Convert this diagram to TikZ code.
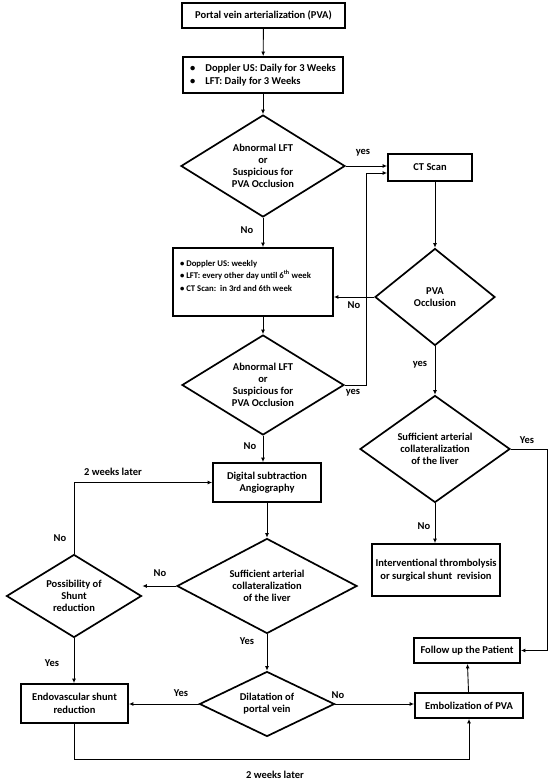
\documentclass[tikz,border=0pt]{standalone}
\usepackage{fontspec}
\setmainfont{Carlito}
\usetikzlibrary{arrows.meta, shapes.geometric}

\begin{document}
\begin{tikzpicture}[x=1pt, y=-1pt,
  box/.style={draw, line width=1.8pt, font=\bfseries\fontsize{10.5}{12.5}\selectfont, align=center, inner sep=2pt},
  dia/.style={diamond, draw, line width=1.7pt, font=\bfseries\fontsize{10.5}{12}\selectfont, align=center, inner sep=0pt, aspect=1.6},
  lab/.style={font=\bfseries\fontsize{10.5}{12}\selectfont},
  arr/.style={-{Latex[length=4.5pt, width=4pt]}, line width=0.9pt}]
\useasboundingbox (0,0) rectangle (550,784);
\node[box, minimum width=163pt, minimum height=25pt] (pva) at (263.5,15.5) {Portal vein arterialization (PVA)};
\node[box, minimum width=160pt, minimum height=36pt, align=left, font=\bfseries\fontsize{10.5}{13}\selectfont] (daily) at (263,75) {\textbullet\hspace{10pt}Doppler US: Daily for 3 Weeks\\ \textbullet\hspace{10pt}LFT: Daily for 3 Weeks};
\node[dia, minimum width=164pt, minimum height=102pt] (dec1) at (263,166) {Abnormal LFT\\ or\\ Suspicious for\\ PVA Occlusion};
\node[box, minimum width=84pt, minimum height=27pt] (ct) at (430,167.5) {CT Scan};
\node[box, minimum width=160pt, minimum height=68pt] (weekly) at (253,282) {\parbox[c][60pt][t]{146pt}{\fontsize{8.7}{12.5}\selectfont\vspace*{8pt}\textbullet\ Doppler US: weekly\\ \textbullet\ LFT: every other day until 6\textsuperscript{th} week\\ \textbullet\ CT Scan:\ \ in 3rd and 6th week}};
\node[dia, minimum width=120pt, minimum height=97pt] (occl) at (435,297) {PVA\\ Occlusion};
\node[dia, minimum width=162pt, minimum height=100pt] (dec2) at (263,385) {Abnormal LFT\\ or\\ Suspicious for\\ PVA Occlusion};
\node[dia, minimum width=150pt, minimum height=107pt] (suff1) at (435,449) {Sufficient arterial\\ collateralization\\ of the liver};
\node[box, minimum width=128pt, minimum height=52pt] (interv) at (436,570) {Interventional thrombolysis\\ or surgical shunt\ \ revision};
\node[box, minimum width=108pt, minimum height=39pt] (dsa) at (267,482.5) {Digital subtraction\\ Angiography};
\node[dia, minimum width=180pt, minimum height=95pt] (suff2) at (267,586) {Sufficient arterial\\ collateralization\\ of the liver};
\node[dia, minimum width=135pt, minimum height=83pt] (poss) at (74,596) {Possibility of\\ Shunt\\ reduction};
\node[box, minimum width=107pt, minimum height=39pt] (endo) at (74.5,703.5) {Endovascular shunt\\ reduction};
\node[dia, minimum width=135pt, minimum height=65pt, aspect=2] (dil) at (267,704) {Dilatation of\\ portal vein};
\node[box, minimum width=108pt, minimum height=25pt] (emb) at (469,705.5) {Embolization of PVA};
\node[box, minimum width=106pt, minimum height=25pt] (follow) at (467,650.5) {Follow up the Patient};
\node[lab] (y1) at (363,153) {yes};
\node[lab] (n1) at (247,230) {No};
\node[lab] (n2) at (354,305) {No};
\node[lab] (y2) at (353,393) {yes};
\node[lab] (y3) at (420,365) {yes};
\node[lab] (y4) at (527,440) {Yes};
\node[lab] (n3) at (424,526) {No};
\node[lab] (n4) at (250,446) {No};
\node[lab] (w1) at (113,472) {2 weeks later};
\node[lab] (n5) at (60,538) {No};
\node[lab] (n6) at (160,573) {No};
\node[lab] (y5) at (52,663) {Yes};
\node[lab] (y6) at (247,641) {Yes};
\node[lab] (y7) at (181,693) {Yes};
\node[lab] (n7) at (338,695) {No};
\node[lab] (w2) at (275,775) {2 weeks later};
\draw[arr] (pva) -- (daily); \draw[arr] (daily) -- (dec1); \draw[arr] (dec1.east) -- (dec1.east -| ct.west);
\draw[arr] (dec1.south) -- (dec1.south |- weekly.north); \draw[arr] (ct.south -| occl.north) -- (occl.north);
\draw[arr] (occl.west) -- (occl.west -| weekly.east); \draw[arr] (dec2.north |- weekly.south) -- (dec2.north);
\draw[arr] (dec2.east) -| ([xshift=-21pt, yshift=-5.5pt]ct.west) -- ([yshift=-5.5pt]ct.west);
\draw[arr] (occl.south) -- (suff1.north); \draw[arr] (suff1.east) -- ++(37,0) |- (follow.east); \draw[arr] (suff1.south) -- (suff1.south |- interv.north);
\draw[arr] (dec2.south) -- (dec2.south |- dsa.north); \draw[arr] (dsa) -- (suff2); \draw[arr] (suff2.west) -- (suff2.west -| poss.east);
\draw[arr] (poss.north) |- (dsa.west); \draw[arr] (poss.south) -- (poss.south |- endo.north); \draw[arr] (suff2) -- (dil);
\draw[arr] (dil.west) -- (dil.west -| endo.east); \draw[arr] (dil.east) -- (dil.east -| emb.west); \draw[arr] (emb) -- (follow);
\draw[arr] (endo.south) -- ++(0,36) -| (emb.south);
\end{tikzpicture}
\end{document}
